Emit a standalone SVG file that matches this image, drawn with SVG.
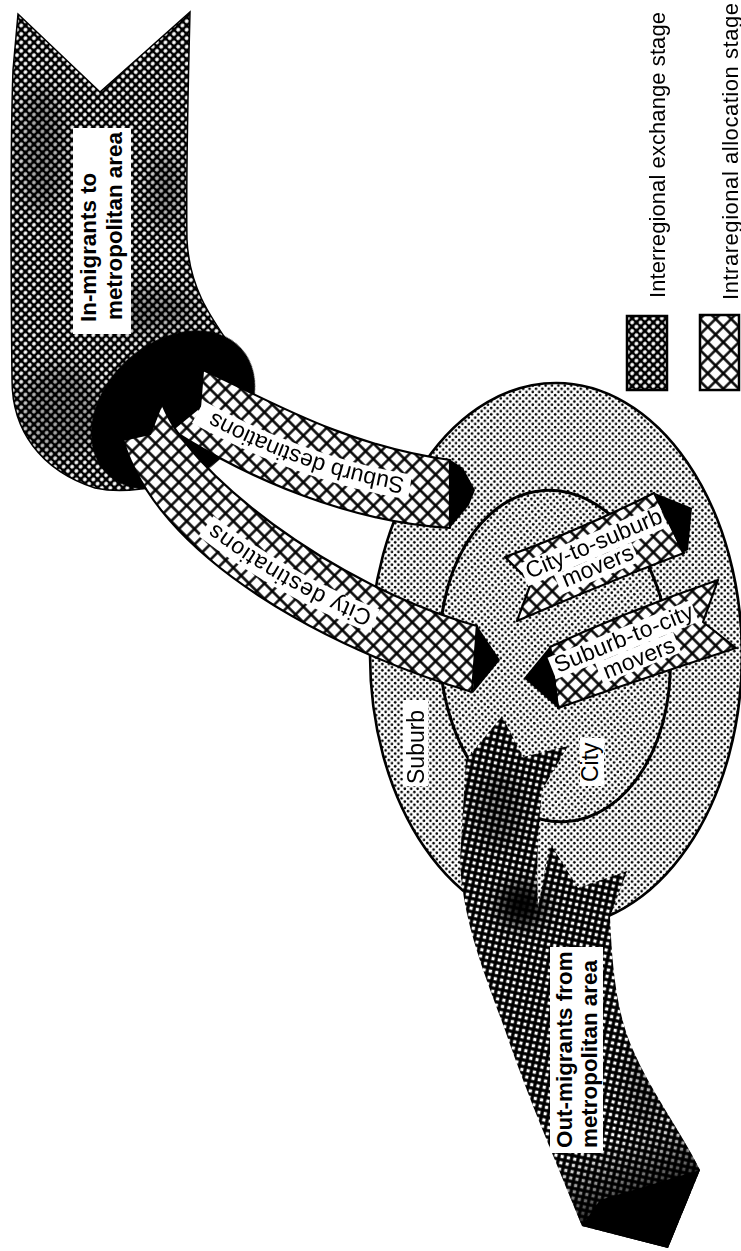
<svg xmlns="http://www.w3.org/2000/svg" width="741" height="1251" viewBox="0 0 741 1251">
<style>
.lab{font-family:"Liberation Sans",Arial,sans-serif;font-weight:bold;font-size:22.4px;fill:#000}
.reg{font-family:"Liberation Sans",Arial,sans-serif;font-size:23px;fill:#000}
.leg{font-family:"Liberation Sans",Arial,sans-serif;font-size:22px;fill:#000}
.rib{fill:url(#intra);stroke:#000;stroke-width:2.2;stroke-linejoin:round}
.head{fill:#000}
.wb{fill:#fff}
.dark{fill:#000;filter:url(#blur)}
</style>
<defs>
<pattern id="inter" width="6" height="6" patternUnits="userSpaceOnUse" patternTransform="rotate(45)">
<rect width="6" height="6" fill="#000"/><circle cx="3" cy="3" r="1.9" fill="#fff"/>
</pattern>
<pattern id="inter2" width="6.4" height="6.4" patternUnits="userSpaceOnUse" patternTransform="rotate(12)">
<rect width="6.4" height="6.4" fill="#000"/><rect x="1.6" y="1.6" width="3.2" height="3.2" fill="#fff"/>
</pattern>
<pattern id="intra" width="11" height="11" patternUnits="userSpaceOnUse" patternTransform="rotate(45)">
<rect width="11" height="11" fill="#fff"/><path d="M0,5.5H11M5.5,0V11" stroke="#000" stroke-width="2.4"/>
</pattern>
<pattern id="dots" width="6.4" height="6.4" patternUnits="userSpaceOnUse">
<rect width="6.4" height="6.4" fill="#fff"/><circle cx="1.6" cy="1.6" r="1.3" fill="#000"/><circle cx="4.8" cy="4.8" r="1.3" fill="#000"/>
</pattern>
<filter id="blur" x="-50%" y="-50%" width="200%" height="200%"><feGaussianBlur stdDeviation="9"/></filter>
<linearGradient id="endg" x1="610" y1="1140" x2="640" y2="1215" gradientUnits="userSpaceOnUse">
<stop offset="0" stop-color="#000" stop-opacity="0"/><stop offset="1" stop-color="#000" stop-opacity="1"/>
</linearGradient>
<clipPath id="inClip"><path d="M18,14 L100,92 L190,12 C188,90 186,180 187,240 C190,300 222,330 248,372 L252,400 C225,470 150,500 95,488 C40,470 12,430 12,380 C11,280 10,150 13,70 Z"/></clipPath>
<clipPath id="outClip"><path d="M466,760 L502,716 L523,757 L568,746 L542,790 C538,830 536,870 538,908 L550,843 L578,888 L627,871 L610,917 C612,960 615,1010 633,1050 C650,1090 680,1130 700,1170 L668,1248 L582,1226 C555,1160 525,1090 505,1030 C485,975 462,920 460,860 Z"/></clipPath>
<path id="tpSub" d="M405,478 Q305,462 206,408"/>
<path id="tpCity" d="M373,612 Q290,580 213,522"/>
</defs>
<rect width="741" height="1251" fill="#fff"/>

<g id="suburb">
<ellipse cx="556" cy="655" rx="186" ry="272" fill="url(#dots)" stroke="#000" stroke-width="2.6"/>
</g>
<g id="city">
<ellipse cx="555" cy="656" rx="115" ry="166" transform="rotate(-4 555 656)" fill="url(#dots)" stroke="#000" stroke-width="3"/>
</g>

<g id="in-migrants">
<path d="M18,14 L100,92 L190,12 C188,90 186,180 187,240 C190,300 222,330 248,372 L252,400 C225,470 150,500 95,488 C40,470 12,430 12,380 C11,280 10,150 13,70 Z" fill="url(#inter)" stroke="#000" stroke-width="1.5"/>
<g clip-path="url(#inClip)" opacity="0.35">
<ellipse class="dark" cx="42" cy="150" rx="22" ry="65"/>
<ellipse class="dark" cx="165" cy="190" rx="16" ry="40"/>
<ellipse class="dark" cx="60" cy="410" rx="40" ry="45"/>
<ellipse class="dark" cx="140" cy="310" rx="55" ry="22"/>
</g>
<rect x="73" y="128" width="58" height="206" class="wb"/>
<text class="lab" transform="translate(96,322) rotate(-90)">In-migrants to</text>
<text class="lab" transform="translate(122,320) rotate(-90)">metropolitan area</text>
</g>

<g id="ring">
<ellipse cx="173" cy="410" rx="92" ry="68" transform="rotate(-42 173 410)" fill="#000"/>
</g>

<g id="connectors">
<g id="suburb-destinations">
<path class="rib" d="M203,370 C260,395 340,445 450,460 L450,528 C350,522 250,480 172,430 L200,407 Z"/>
<polygon class="head" points="449,459 463,468 475,490 469,505 449,529"/>
<path d="M410,487 Q303,470 198,412" fill="none" stroke="#fff" stroke-width="25"/>
<text class="reg"><textPath href="#tpSub">Suburb destinations</textPath></text>
</g>
<g id="city-destinations">
<path class="rib" d="M162,403 C185,470 330,585 477,626 L472,692 C330,650 160,560 123,440 L150,434 Z"/>
<polygon class="head" points="476,624 500,660 473,693"/>
<path d="M375,621 Q286,587 206,526" fill="none" stroke="#fff" stroke-width="25"/>
<text class="reg" letter-spacing="0.8"><textPath href="#tpCity">City destinations</textPath></text>
</g>
<g id="city-to-suburb">
<path class="rib" d="M505,557 Q580,530 654,493 L684,553 Q600,585 517,621 L531,583 Z"/>
<polygon class="head" points="655,493 692,508 688,550 682,553"/>
<g transform="translate(530,580) rotate(-23)">
<rect x="-4" y="-19" width="152" height="24" class="wb"/>
<rect x="24" y="5" width="84" height="21" class="wb"/>
<text class="reg" x="0" y="-1" textLength="146">City-to-suburb</text>
<text class="reg" x="30" y="21">movers</text>
</g>
</g>
<g id="suburb-to-city">
<path class="rib" d="M718,580 Q630,610 550,647 L558,708 Q650,676 736,648 L703,622 Z"/>
<polygon class="head" points="551,645 524,678 559,709"/>
<g transform="translate(558,673) rotate(-22)">
<rect x="-4" y="-18" width="154" height="23" class="wb"/>
<rect x="38" y="5" width="84" height="22" class="wb"/>
<text class="reg" x="0" y="0" textLength="148">Suburb-to-city</text>
<text class="reg" x="43" y="24">movers</text>
</g>
</g>
</g>

<g id="out-migrants">
<path d="M466,760 L502,716 L523,757 L568,746 L542,790 C538,830 536,870 538,908 L550,843 L578,888 L627,871 L610,917 C612,960 615,1010 633,1050 C650,1090 680,1130 700,1170 L668,1248 L582,1226 C555,1160 525,1090 505,1030 C485,975 462,920 460,860 Z" fill="url(#inter2)"/>
<g clip-path="url(#outClip)">
<ellipse class="dark" cx="522" cy="905" rx="24" ry="22" opacity="0.95"/>
<ellipse class="dark" cx="500" cy="810" rx="22" ry="40" opacity="0.35"/>
<ellipse class="dark" cx="645" cy="1090" rx="20" ry="45" opacity="0.3"/>
<rect x="540" y="1100" width="200" height="160" fill="url(#endg)"/>
<polygon points="582,1226 600,1200 700,1170 668,1248" fill="#000"/>
</g>
<rect x="550" y="947" width="53" height="206" class="wb"/>
<text class="lab" transform="translate(572,1148) rotate(-90)">Out-migrants from</text>
<text class="lab" transform="translate(597,1148) rotate(-90)">metropolitan area</text>
</g>

<g id="suburb-label">
<rect x="403" y="700" width="25" height="86" class="wb"/>
<text class="reg" font-size="22.5" transform="translate(424,784) rotate(-90)">Suburb</text>
</g>
<g id="city-label">
<rect x="580" y="738" width="24" height="48" class="wb"/>
<text class="reg" font-size="22.5" transform="translate(598,782) rotate(-90)">City</text>
</g>

<g id="legend">
<rect x="627" y="316" width="40" height="74" fill="url(#inter)" stroke="#000" stroke-width="2.5"/>
<text class="leg" transform="translate(665,298) rotate(-90)" textLength="286">Interregional exchange stage</text>
<rect x="700" y="315" width="39" height="75" fill="url(#intra)" stroke="#000" stroke-width="2.5"/>
<text class="leg" transform="translate(738,300) rotate(-90)" textLength="297">Intraregional allocation stage</text>
</g>
</svg>
